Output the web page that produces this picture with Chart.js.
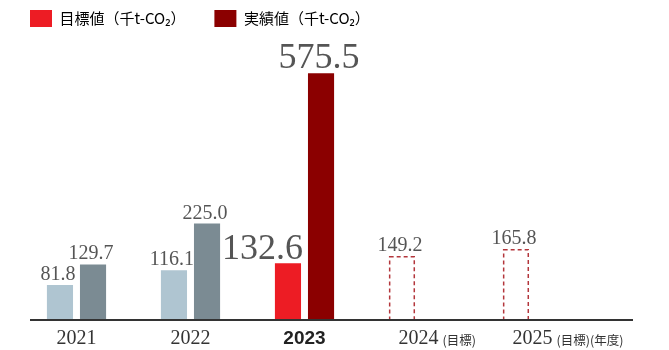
<!DOCTYPE html>
<html lang="ja">
<head>
<meta charset="utf-8">
<script src="https://cdn.jsdelivr.net/npm/chart.js@4.4.1/dist/chart.umd.min.js"></script>
<style>
html, body { margin: 0; padding: 0; background: #fff; }
#wrap { width: 669px; height: 350px; }
</style>
</head>
<body>
<div id="wrap"><canvas id="chart" width="669" height="350"></canvas></div>
<script>
// CO2 reduction: target vs actual (thousand t-CO2)
const years = ['2021', '2022', '2023', '2024', '2025'];
const yearNotes = ['', '', '', '(目標)', '(目標)(年度)'];
const targetValues = [81.8, 116.1, 132.6, 149.2, 165.8];
const actualValues = [129.7, 225.0, 575.5, null, null];
const seriesNames = ['目標値（千t-CO₂）', '実績値（千t-CO₂）'];
const currentIndex = 2;   // highlighted year (2023)
const yMax = 660;

const legendColors = ['#ed1c24', '#8b0000'];
const pastColors = ['#afc5d1', '#7b8b93'];
const serif = "'Liberation Serif', 'DejaVu Serif', serif";
const cjk = "'Noto Sans CJK JP', 'Noto Sans', sans-serif";

function barColor(ds, i) {
    if (i === currentIndex) return legendColors[ds];
    if (i < currentIndex) return pastColors[ds];
    return 'rgba(0,0,0,0)';
}

// Extra drawing: dashed planned bars, value labels, base line, year notes
const decorations = {
    id: 'decorations',
    afterDatasetsDraw(chart) {
        const { ctx, scales: { x, y } } = chart;
        const base = y.getPixelForValue(0);
        ctx.save();

        // planned (future) targets drawn as dashed outlines
        chart.getDatasetMeta(0).data.forEach((bar, i) => {
            if (actualValues[i] !== null) return;
            const p = bar.getProps(['x', 'y', 'width'], true);
            ctx.setLineDash([4, 3]);
            ctx.lineWidth = 1.5;
            ctx.strokeStyle = '#b3363c';
            ctx.strokeRect(p.x - p.width / 2 + 0.75, p.y + 0.75, p.width - 1.5, base - p.y - 0.75);
        });
        ctx.setLineDash([]);

        // value labels
        ctx.fillStyle = '#555';
        ctx.textBaseline = 'alphabetic';
        [targetValues, actualValues].forEach((values, ds) => {
            chart.getDatasetMeta(ds).data.forEach((bar, i) => {
                if (values[i] === null) return;
                const p = bar.getProps(['x', 'y', 'width'], true);
                const big = i === currentIndex;
                ctx.font = (big ? 36 : 20) + 'px ' + serif;
                if (big && ds === 0) {
                    ctx.textAlign = 'right';
                    ctx.fillText(values[i].toFixed(1), p.x + p.width / 2 + 2, p.y - 4);
                } else {
                    ctx.textAlign = 'center';
                    ctx.fillText(values[i].toFixed(1), p.x - 2, p.y - 5);
                }
            });
        });

        // base line
        ctx.fillStyle = '#333';
        ctx.fillRect(30, base - 1, 603, 2);
        ctx.restore();
    },
    afterDraw(chart) {
        const { ctx, scales: { x, y } } = chart;
        ctx.save();
        const cy = y.getPixelForValue(0) + 20;
        yearNotes.forEach((note, i) => {
            if (!note) return;
            ctx.font = '20px ' + serif;
            const w = ctx.measureText(years[i]).width;
            ctx.font = '12.5px ' + cjk;
            ctx.fillStyle = '#333';
            ctx.textAlign = 'left';
            ctx.textBaseline = 'middle';
            ctx.fillText(note, x.getPixelForTick(i) + w / 2 + 4, cy);
        });
        ctx.restore();
    }
};

new Chart(document.getElementById('chart'), {
    type: 'bar',
    data: {
        labels: years,
        datasets: [
            {
                label: seriesNames[0],
                data: targetValues,
                backgroundColor: years.map((_, i) => barColor(0, i)),
                borderWidth: 0,
                categoryPercentage: 0.58,
                barPercentage: 0.79
            },
            {
                label: seriesNames[1],
                data: actualValues,
                backgroundColor: years.map((_, i) => barColor(1, i)),
                borderWidth: 0,
                categoryPercentage: 0.58,
                barPercentage: 0.79
            }
        ]
    },
    options: {
        responsive: false,
        animation: false,
        layout: { padding: { top: -19, left: 1, right: 79.5, bottom: -8 } },
        scales: {
            x: {
                grid: { display: false, drawTicks: false },
                border: { display: false },
                ticks: {
                    autoSkip: false,
                    maxRotation: 0,
                    padding: 7,
                    color: (c) => c.index === currentIndex ? '#222' : '#333',
                    font: (c) => c.index === currentIndex
                        ? { family: "'Liberation Sans', Arial, sans-serif", size: 19, weight: 'bold' }
                        : { family: serif, size: 20 }
                }
            },
            y: {
                min: 0,
                max: yMax,
                grid: { display: false, drawTicks: false },
                border: { display: false },
                ticks: { display: false },
                afterFit(scale) { scale.width = 18.5; }
            }
        },
        plugins: {
            tooltip: { enabled: false },
            legend: {
                align: 'start',
                labels: {
                    boxWidth: 22,
                    boxHeight: 17,
                    padding: 29,
                    color: '#595959',
                    font: { family: cjk, size: 15 },
                    generateLabels: () => seriesNames.map((t, i) => ({
                        text: t,
                        fillStyle: legendColors[i],
                        strokeStyle: legendColors[i],
                        lineWidth: 0,
                        hidden: false,
                        datasetIndex: i
                    }))
                }
            }
        }
    },
    plugins: [decorations]
});
</script>
</body>
</html>
